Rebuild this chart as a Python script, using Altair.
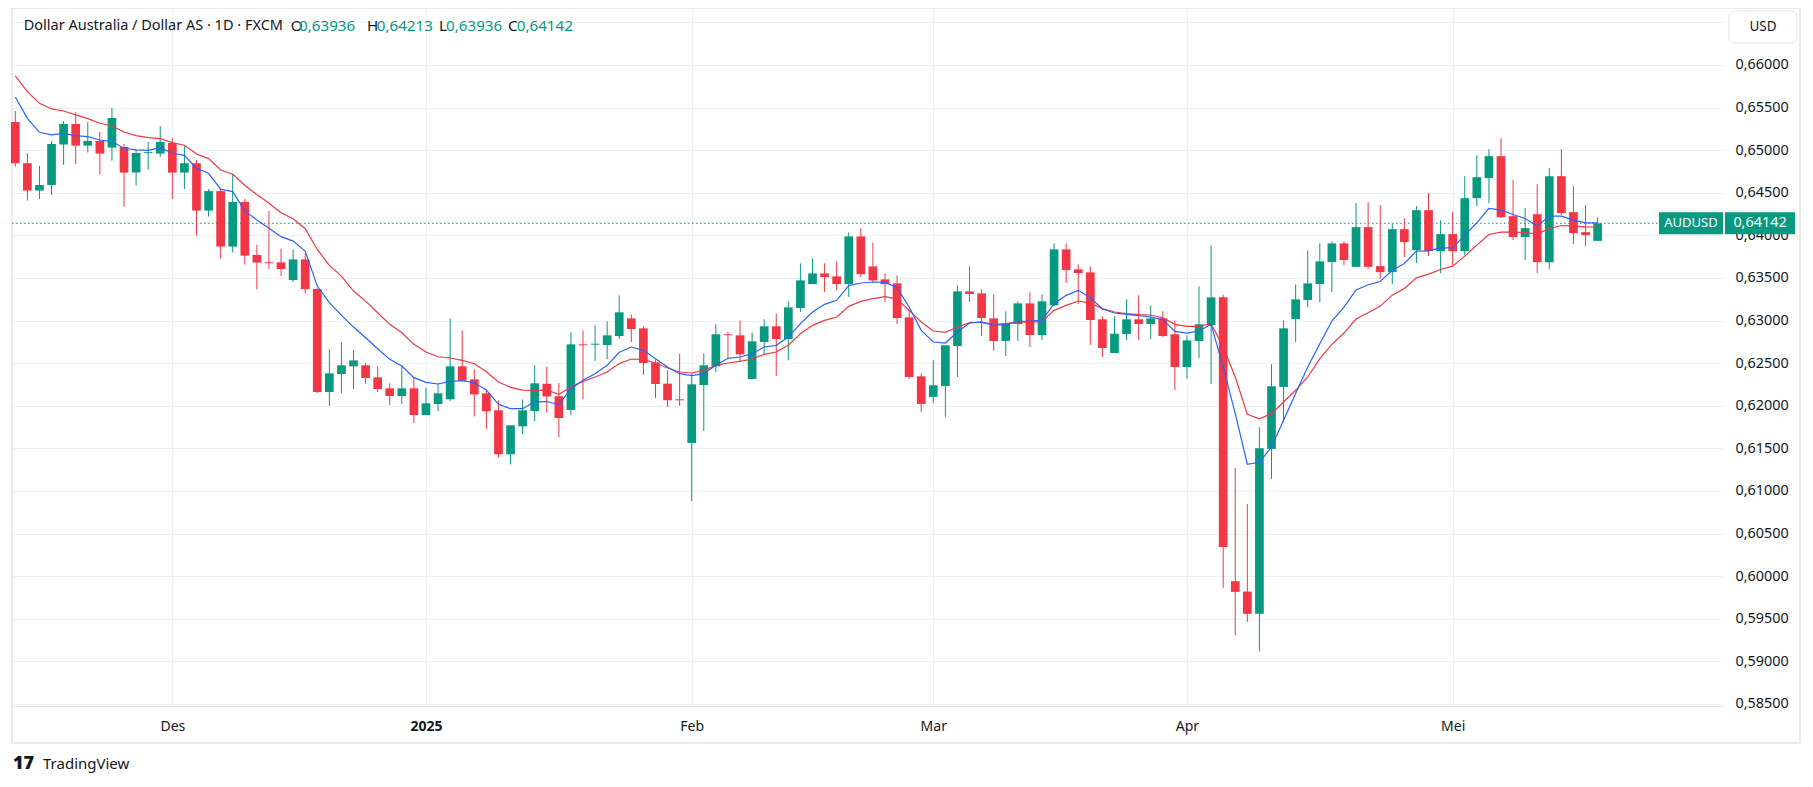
import altair as alt
import pandas as pd

# ---------------- data ----------------
opens = [0.65331,0.64847,0.64526,0.64592,0.65066,0.65308,0.65054,0.65109,0.65030,0.65038,
0.64737,0.64965,0.64960,0.65085,0.64737,0.64847,0.64291,0.64520,0.63869,0.64393,
0.63771,0.63685,0.63683,0.63476,0.63718,0.63370,0.62162,0.62373,0.62463,0.62475,
0.62334,0.62205,0.62115,0.62205,0.61892,0.62021,0.62076,0.62463,0.62310,0.62146,
0.61947,0.61431,0.61759,0.61939,0.62258,0.62112,0.61951,0.62721,0.62717,0.62714,
0.62819,0.63026,0.62909,0.62510,0.62260,0.62076,0.61564,0.62244,0.62463,0.62839,
0.62827,0.62315,0.62749,0.62933,0.62784,0.63148,0.63429,0.63554,0.63519,0.63429,
0.63988,0.63636,0.63484,0.63437,0.63038,0.62346,0.62104,0.62233,0.62702,0.63343,
0.63320,0.63026,0.62761,0.62960,0.63202,0.62831,0.63179,0.63836,0.63601,0.63566,
0.63015,0.62620,0.62843,0.63015,0.62960,0.63026,0.62839,0.62456,0.62761,0.62948,
0.63273,0.59941,0.59820,0.59558,0.61494,0.62221,0.63019,0.63241,0.63429,0.63687,
0.63906,0.63631,0.64097,0.63639,0.63569,0.64073,0.63827,0.64296,0.63815,0.64015,
0.63815,0.64437,0.64672,0.64930,0.64226,0.63980,0.64249,0.63686,0.64695,0.64273,
0.64038,0.63936]
highs = [0.65460,0.64964,0.64815,0.65109,0.65343,0.65449,0.65331,0.65214,0.65496,0.65073,
0.65003,0.65097,0.65284,0.65140,0.65054,0.64886,0.64545,0.64557,0.64718,0.64428,
0.63889,0.64287,0.63847,0.63835,0.63788,0.63378,0.62662,0.62744,0.62651,0.62498,
0.62463,0.62264,0.62475,0.62326,0.62213,0.62264,0.63026,0.62885,0.62428,0.62174,
0.62064,0.61771,0.62076,0.62475,0.62460,0.62268,0.62862,0.62886,0.62944,0.62991,
0.63296,0.63073,0.62933,0.62542,0.62416,0.62612,0.62377,0.62616,0.62956,0.62870,
0.63003,0.62862,0.63015,0.63081,0.63226,0.63672,0.63730,0.63672,0.63695,0.64035,
0.64082,0.63918,0.63554,0.63531,0.63120,0.62381,0.62534,0.62710,0.63414,0.63636,
0.63367,0.63308,0.63109,0.63226,0.63331,0.63308,0.63906,0.63906,0.63660,0.63636,
0.63050,0.63050,0.63249,0.63296,0.63179,0.63109,0.63003,0.62827,0.63402,0.63883,
0.63304,0.61271,0.60849,0.61748,0.62487,0.63003,0.63425,0.63824,0.63906,0.63930,
0.63930,0.64379,0.64390,0.64355,0.64132,0.64202,0.64343,0.64496,0.64179,0.64273,
0.64695,0.64941,0.65012,0.65141,0.64648,0.64320,0.64601,0.64789,0.65012,0.64578,
0.64355,0.64213]
lows = [0.64807,0.64409,0.64428,0.64475,0.64827,0.64839,0.64972,0.64714,0.64878,0.64338,
0.64585,0.64772,0.64921,0.64428,0.64545,0.63998,0.64221,0.63728,0.63799,0.63658,
0.63365,0.63607,0.63522,0.63452,0.63323,0.62150,0.61998,0.62150,0.62197,0.62256,
0.62162,0.62009,0.62021,0.61798,0.61892,0.61939,0.62056,0.62295,0.61876,0.61728,
0.61395,0.61313,0.61665,0.61818,0.61920,0.61631,0.61892,0.62076,0.62526,0.62545,
0.62784,0.62749,0.62362,0.62092,0.61986,0.61998,0.60880,0.61705,0.62397,0.62553,
0.62522,0.62315,0.62604,0.62350,0.62534,0.63101,0.63429,0.63335,0.63355,0.63277,
0.63511,0.63441,0.63218,0.62960,0.62315,0.61928,0.62033,0.61869,0.62338,0.63218,
0.62819,0.62643,0.62585,0.62761,0.62690,0.62772,0.63171,0.63441,0.63195,0.62714,
0.62573,0.62620,0.62772,0.62772,0.62784,0.62807,0.62186,0.62315,0.62561,0.62256,
0.59863,0.59308,0.59464,0.59120,0.61142,0.61810,0.62749,0.63159,0.63218,0.63335,
0.63652,0.63629,0.63608,0.63487,0.63428,0.63745,0.63675,0.63757,0.63557,0.63651,
0.63768,0.64343,0.64378,0.64202,0.63944,0.63710,0.63557,0.63604,0.64238,0.63897,
0.63874,0.63936]
closes = [0.64847,0.64526,0.64592,0.65073,0.65308,0.65054,0.65109,0.64960,0.65378,0.64737,
0.64968,0.64972,0.65097,0.64737,0.64847,0.64291,0.64520,0.63869,0.64393,0.63763,
0.63681,0.63681,0.63605,0.63718,0.63370,0.62162,0.62381,0.62475,0.62533,0.62326,
0.62197,0.62115,0.62205,0.61892,0.62029,0.62146,0.62463,0.62295,0.62134,0.61935,
0.61431,0.61771,0.61947,0.62264,0.62110,0.61857,0.62721,0.62717,0.62721,0.62827,
0.63097,0.62901,0.62502,0.62256,0.62065,0.62069,0.62252,0.62475,0.62839,0.62834,
0.62604,0.62757,0.62933,0.62784,0.63155,0.63472,0.63554,0.63511,0.63429,0.63988,
0.63546,0.63472,0.63429,0.63030,0.62338,0.62022,0.62241,0.62710,0.63343,0.63312,
0.63030,0.62761,0.62968,0.63202,0.62831,0.63226,0.63836,0.63593,0.63558,0.63007,
0.62678,0.62847,0.63015,0.62960,0.63026,0.62819,0.62456,0.62768,0.62956,0.63273,
0.60344,0.59816,0.59558,0.61502,0.62229,0.62909,0.63249,0.63437,0.63695,0.63906,
0.63711,0.64097,0.63631,0.63569,0.64073,0.63921,0.64296,0.63815,0.64015,0.63815,
0.64437,0.64683,0.64930,0.64214,0.63980,0.64085,0.63686,0.64695,0.64261,0.64026,
0.64003,0.64142]
ma_fast = [0.65625,0.65374,0.65210,0.65179,0.65198,0.65171,0.65159,0.65120,0.65101,0.65023,
0.65003,0.64999,0.65030,0.64964,0.64940,0.64788,0.64729,0.64542,0.64514,0.64287,
0.64182,0.64084,0.63985,0.63933,0.63816,0.63405,0.63210,0.63061,0.62924,0.62799,
0.62670,0.62545,0.62467,0.62330,0.62275,0.62256,0.62287,0.62295,0.62271,0.62185,
0.62017,0.61966,0.61966,0.62045,0.62050,0.62014,0.62201,0.62299,0.62377,0.62475,
0.62628,0.62690,0.62651,0.62553,0.62456,0.62377,0.62354,0.62377,0.62475,0.62557,
0.62573,0.62612,0.62690,0.62710,0.62807,0.62964,0.63101,0.63191,0.63238,0.63410,
0.63441,0.63453,0.63449,0.63386,0.63159,0.62886,0.62749,0.62737,0.62866,0.62972,
0.62983,0.62944,0.62952,0.62991,0.62995,0.63003,0.63198,0.63296,0.63355,0.63267,
0.63136,0.63089,0.63073,0.63058,0.63042,0.63011,0.62874,0.62854,0.62878,0.62956,
0.62456,0.61908,0.61314,0.61337,0.61517,0.61830,0.62143,0.62456,0.62729,0.62995,
0.63159,0.63360,0.63421,0.63459,0.63592,0.63671,0.63815,0.63819,0.63854,0.63854,
0.64003,0.64148,0.64316,0.64296,0.64245,0.64198,0.64109,0.64226,0.64226,0.64179,
0.64148,0.64148]
ma_slow = [0.65871,0.65687,0.65550,0.65484,0.65460,0.65414,0.65370,0.65316,0.65284,0.65214,
0.65171,0.65148,0.65136,0.65089,0.65058,0.64956,0.64901,0.64768,0.64718,0.64588,
0.64479,0.64377,0.64266,0.64195,0.64078,0.63835,0.63648,0.63522,0.63347,0.63229,
0.63092,0.62956,0.62858,0.62721,0.62631,0.62576,0.62561,0.62533,0.62494,0.62400,
0.62279,0.62217,0.62185,0.62181,0.62185,0.62135,0.62221,0.62287,0.62338,0.62397,
0.62495,0.62549,0.62542,0.62502,0.62444,0.62397,0.62385,0.62416,0.62475,0.62502,
0.62522,0.62549,0.62604,0.62631,0.62710,0.62847,0.62944,0.63003,0.63042,0.63167,
0.63226,0.63257,0.63281,0.63253,0.63120,0.62983,0.62878,0.62862,0.62925,0.62976,
0.62983,0.62956,0.62964,0.62983,0.62983,0.62991,0.63120,0.63179,0.63230,0.63206,
0.63140,0.63101,0.63081,0.63069,0.63066,0.63034,0.62956,0.62933,0.62933,0.62964,
0.62690,0.62338,0.61900,0.61846,0.61908,0.62045,0.62182,0.62338,0.62553,0.62721,
0.62854,0.63018,0.63092,0.63170,0.63299,0.63377,0.63502,0.63545,0.63600,0.63639,
0.63757,0.63886,0.64011,0.64038,0.64038,0.64034,0.64015,0.64081,0.64116,0.64109,
0.64101,0.64097]

tick_idx = [13, 34, 56, 76, 97, 119]
tick_labels = ["Des", "2025", "Feb", "Mar", "Apr", "Mei"]
bold_tick = 34
price_ticks = [0.585, 0.59, 0.595, 0.60, 0.605, 0.61, 0.615, 0.62, 0.625,
               0.63, 0.635, 0.64, 0.645, 0.65, 0.655, 0.66, 0.665]
last_price = [0.64142]
last_price_text = ["0,64142"]
symbol = ["AUDUSD"]
currency = ["USD"]
title_main = ["Dollar Australia / Dollar AS · 1D · FXCM"]
ohlc_letters = ["O", "H", "L", "C"]
ohlc_values = ["0,63936", "0,64213", "0,63936", "0,64142"]
brand = ["TradingView"]
brand_icon = ["17"]

# ---------------- style / layout ----------------
UP = "#089981"
DOWN = "#F23645"
BLUE = "#2962FF"
RED_MA = "#F23645"
TXT = "#131722"
GRID = "#eef0f3"
FRAME = "#e0e3eb"
FONT = "Noto Sans"

W, H = 1711, 698
XDOM = [-0.273, 141.38]
YDOM = [0.584765, 0.66669]
PX = (YDOM[1] - YDOM[0]) / H  # price per pixel

xs = alt.Scale(domain=XDOM, nice=False, zero=False)
ys = alt.Scale(domain=YDOM, nice=False, zero=False)

df = pd.DataFrame({"idx": list(range(len(opens))), "o": opens, "h": highs,
                   "l": lows, "c": closes, "fast": ma_fast, "slow": ma_slow})

xexpr = "''"
for i, lab in reversed(list(zip(tick_idx, tick_labels))):
    xexpr = f"datum.value == {i} ? '{lab}' : {xexpr}"

xaxis = alt.Axis(values=tick_idx, labelExpr=xexpr, grid=True, gridColor=GRID,
                 gridWidth=1, ticks=False, domain=True, domainColor=FRAME,
                 labelFont=FONT, labelFontSize=14, labelColor=TXT, labelPadding=20,
                 labelBaseline="middle", title=None, labelFlush=False,
                 labelOverlap=False, zindex=0,
                 labelFontWeight={"condition": {"test": f"datum.value == {bold_tick}",
                                                "value": "bold"}, "value": "normal"})
yaxis = alt.Axis(orient="right", values=price_ticks,
                 labelExpr="datum.value > 0.6625 ? '' : replace(format(datum.value, '.5f'), '.', ',')",
                 grid=True, gridColor=GRID, gridWidth=1, ticks=False, domain=False,
                 labelFont=FONT, labelFontSize=14.4, labelColor=TXT, labelPadding=12,
                 labelBaseline="middle", labelAlign="left", title=None,
                 labelFlush=False, labelOverlap=False, zindex=0)

color_cond = alt.condition("datum.c >= datum.o", alt.value(UP), alt.value(DOWN))
base = alt.Chart(df)

wicks = base.mark_rule(strokeWidth=1).encode(
    x=alt.X("idx:Q", scale=xs, axis=xaxis),
    y=alt.Y("l:Q", scale=ys, axis=yaxis),
    y2="h:Q",
    color=color_cond,
)
bodies = base.transform_calculate(
    x0="datum.idx - 0.36", x1="datum.idx + 0.36",
    cb=f"abs(datum.c - datum.o) < {PX:.7f} ? datum.o + (datum.c >= datum.o ? {PX:.7f} : -{PX:.7f}) : datum.c",
).mark_rect().encode(
    x=alt.X("x0:Q", scale=xs, axis=xaxis), x2="x1:Q",
    y=alt.Y("o:Q", scale=ys, axis=yaxis), y2="cb:Q",
    color=color_cond,
)
slow_line = base.mark_line(color=RED_MA, strokeWidth=1.2).encode(
    x=alt.X("idx:Q", scale=xs, axis=xaxis), y=alt.Y("slow:Q", scale=ys, axis=yaxis))
fast_line = base.mark_line(color=BLUE, strokeWidth=1.2).encode(
    x=alt.X("idx:Q", scale=xs, axis=xaxis), y=alt.Y("fast:Q", scale=ys, axis=yaxis))

pdf = pd.DataFrame({"p": last_price, "lbl": last_price_text, "sym": symbol})
pbase = alt.Chart(pdf)
HALF = 11 * PX
price_rule = pbase.mark_rule(color=UP, strokeDash=[1.5, 2.5], strokeWidth=1).encode(
    y=alt.Y("p:Q", scale=ys, axis=yaxis), x=alt.value(0), x2=alt.value(1647))
box_sym = pbase.transform_calculate(y0=f"datum.p + {HALF}", y1=f"datum.p - {HALF}").mark_rect(
    color=UP).encode(x=alt.value(1647), x2=alt.value(1711),
                     y=alt.Y("y0:Q", scale=ys, axis=yaxis), y2="y1:Q")
box_price = pbase.transform_calculate(y0=f"datum.p + {HALF}", y1=f"datum.p - {HALF}").mark_rect(
    color=UP).encode(x=alt.value(1713), x2=alt.value(1783),
                     y=alt.Y("y0:Q", scale=ys, axis=yaxis), y2="y1:Q")
txt_sym = pbase.mark_text(color="white", font=FONT, fontSize=13, align="center",
                          baseline="middle").encode(
    x=alt.value(1679), y=alt.Y("p:Q", scale=ys, axis=yaxis), text="sym:N")
txt_price = pbase.mark_text(color="white", font=FONT, fontSize=14.4, align="center",
                            baseline="middle").encode(
    x=alt.value(1748), y=alt.Y("p:Q", scale=ys, axis=yaxis), text="lbl:N")

one = alt.Chart(pd.DataFrame({"t": currency}))
usd_box = one.mark_rect(fill="white", stroke=FRAME, strokeWidth=1, cornerRadius=6).encode(
    x=alt.value(1717), x2=alt.value(1785), y=alt.value(3), y2=alt.value(35))
usd_txt = one.mark_text(color=TXT, font=FONT, fontSize=13.5, align="center",
                        baseline="middle").encode(x=alt.value(1751), y=alt.value(19), text="t:N")

frame = one.mark_rect(fill="transparent", stroke=FRAME, strokeWidth=1.5).encode(
    x=alt.value(0), x2=alt.value(1788), y=alt.value(0), y2=alt.value(735))

# title segments (text, colour, size, x position)
seg_text = [title_main[0]]
seg_color = [TXT]
seg_size = [14.5]
for letter, val in zip(ohlc_letters, ohlc_values):
    seg_text += [letter, val]
    seg_color += [TXT, UP]
    seg_size += [15.2, 15.2]
seg_x = [11.7, 278.7, 287, 355, 364.7, 427, 434, 496, 504.7]
title_layers = []
for t, col, fs, xpos in zip(seg_text, seg_color, seg_size, seg_x):
    title_layers.append(
        alt.Chart(pd.DataFrame({"t": [t]})).mark_text(
            color=col, font=FONT, fontSize=fs, align="left", baseline="middle"
        ).encode(x=alt.value(xpos), y=alt.value(18), text="t:N"))

logo_icon = alt.Chart(pd.DataFrame({"t": brand_icon})).mark_text(
    color=TXT, font=FONT, fontSize=18, fontWeight=900, align="left",
    baseline="middle").encode(x=alt.value(1), y=alt.value(756), text="t:N")
logo_txt = alt.Chart(pd.DataFrame({"t": brand})).mark_text(
    color=TXT, font=FONT, fontSize=15, align="left", baseline="middle").encode(
    x=alt.value(31), y=alt.value(756), text="t:N")

chart = alt.layer(
    frame, price_rule, wicks, bodies, slow_line, fast_line,
    box_sym, box_price, txt_sym, txt_price, usd_box, usd_txt,
    *title_layers, logo_icon, logo_txt,
).properties(
    width=W, height=H,
    autosize=alt.AutoSizeParams(type="none"),
    padding={"left": 4, "top": 0, "right": 82, "bottom": 67},
    background="white",
).configure_view(stroke="transparent")

chart.save("out.html", embed_options={"renderer": "svg", "actions": False})
